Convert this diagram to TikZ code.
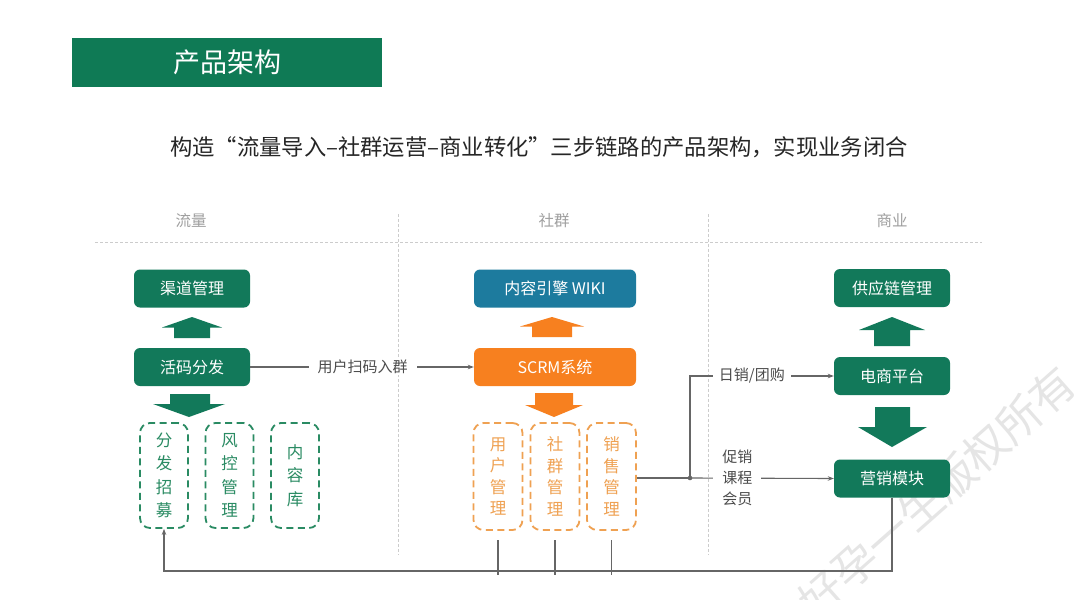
\documentclass[tikz,border=0pt]{standalone}
\usepackage{fontspec}
\setmainfont{Noto Sans CJK SC}
\usetikzlibrary{arrows.meta}
\definecolor{dgreen}{HTML}{12795A}
\definecolor{tgreen}{HTML}{0F7A55}
\definecolor{teal}{HTML}{1D7B9E}
\definecolor{orng}{HTML}{F7801F}
\definecolor{lorng}{HTML}{EFA152}
\definecolor{dashg}{HTML}{2A8B63}
\definecolor{lgray}{HTML}{666666}
\definecolor{sepgray}{HTML}{CCCCCC}
\tikzset{
  gbox/.style={fill=dgreen, rounded corners=6pt, minimum width=116pt, minimum height=38pt, inner sep=0pt, text=white, font=\fontsize{16}{16}\selectfont},
  tbox/.style={gbox, fill=teal, minimum width=162pt},
  obox/.style={gbox, fill=orng, minimum width=162pt},
  gdash/.style={draw=dashg, line width=1.8pt, dash pattern=on 7pt off 4.5pt, rounded corners=10pt, minimum width=48pt, minimum height=105pt, inner sep=0pt, text=dashg, align=center, font=\fontsize{16.5}{23.5}\selectfont},
  odash/.style={gdash, draw=lorng, text=lorng, minimum width=49pt, minimum height=107pt, font=\fontsize{16.5}{21.5}\selectfont},
  conn/.style={draw=lgray, line width=1.1pt},
  tip/.style={-{Stealth[length=6pt,width=4.5pt]}},
  lab/.style={fill=white, text=black!70, font=\fontsize{15}{17}\selectfont, inner xsep=6pt, inner ysep=1pt},
  sep/.style={draw=sepgray, line width=0.8pt, dash pattern=on 3pt off 2pt},
  hdr/.style={text=gray!75, font=\fontsize{15.5}{15.5}\selectfont},
}
\begin{document}
\begin{tikzpicture}[x=1pt,y=-1pt]
\useasboundingbox (0,0) rectangle (1080,600);
\fill[white] (0,0) rectangle (1080,600);
\clip (0,0) rectangle (1080,600);

% watermark
\node[text=gray!20, rotate=41.5, font=\fontsize{44}{44}\selectfont] (wm) at (937,492) {好孕一生版权所有};

% title
\node[fill=tgreen, minimum width=310pt, minimum height=49pt, inner sep=0pt, text=white, font=\fontsize{27}{27}\selectfont] (title) at (227,62.5) {产品架构};
\node[font=\fontsize{22.3}{22.3}\selectfont, text=black!85] (sub) at (539,147) {构造“流量导入–社群运营–商业转化”三步链路的产品架构，实现业务闭合};

% separators
\coordinate (hl) at (95,242);
\coordinate (hr) at (982,242);
\draw[sep] (hl) -- (hr);
\coordinate (v1t) at (398,214);
\coordinate (v1b) at (398,555);
\coordinate (v2t) at (708,214);
\coordinate (v2b) at (708,555);
\draw[sep] (v1t) -- (v1b);
\draw[sep] (v2t) -- (v2b);

% headers
\node[hdr] (h1) at (191,221) {流量};
\node[hdr] (h2) at (554,221) {社群};
\node[hdr] (h3) at (892,221) {商业};

% left column
\node[gbox] (qudao) at (192,288.5) {渠道管理};
\node[gbox] (huoma) at (192,367) {活码分发};
\fill[dgreen] (192,317) -- (222,327.5) -- (210,327.5) -- (210,338) -- (174,338) -- (174,327.5) -- (162,327.5) -- cycle;
\fill[dgreen] (189,417) -- (225,404) -- (210,404) -- (210,394) -- (170,394) -- (170,404) -- (153,404) -- cycle;
\node[gdash] (fenfa) at (164,475.5) {分\\发\\招\\募};
\node[gdash] (fengkong) at (229.5,475.5) {风\\控\\管\\理};
\node[gdash] (neirong) at (295,475.5) {内\\容\\库};

% middle column
\node[tbox] (wiki) at (555,288.5) {内容引擎 WIKI};
\node[obox] (scrm) at (555,367) {SCRM系统};
\fill[orng] (552,317) -- (584,326.5) -- (572,326.5) -- (572,337) -- (532,337) -- (532,326.5) -- (520,326.5) -- cycle;
\fill[orng] (554,417) -- (583,405) -- (573,405) -- (573,393) -- (535,393) -- (535,405) -- (525,405) -- cycle;
\node[odash] (yonghu) at (498,476.5) {用\\户\\管\\理};
\node[odash] (shequn) at (555,476.5) {社\\群\\管\\理};
\node[odash] (xiaoshou) at (611.5,476.5) {销\\售\\管\\理};

% right column
\node[gbox] (gongying) at (892,288) {供应链管理};
\node[gbox] (dianshang) at (892,376) {电商平台};
\node[gbox] (yingxiao) at (892,478.5) {营销模块};
\fill[dgreen] (892,317) -- (925,330) -- (910,330) -- (910,346) -- (874,346) -- (874,330) -- (859,330) -- cycle;
\fill[dgreen] (892,447) -- (927,427) -- (910,427) -- (910,407) -- (875,407) -- (875,427) -- (858,427) -- cycle;

% connectors
\draw[conn,tip] (huoma.east) -- node[lab, pos=0.503, inner xsep=9pt] {用户扫码入群} (scrm.west);

\coordinate (j) at (690,478);
\draw[conn] (xiaoshou.east |- j) -- (j);
\fill[lgray] (j) circle (2.3pt);
\draw[conn,tip] (j) |- node[lab, pos=0.715] {日销/团购} (dianshang.west);
\draw[conn,tip] (j) -- node[lab, pos=0.33, align=center, inner xsep=9pt, font=\fontsize{15}{21}\selectfont] {促销\\课程\\会员} (yingxiao.west);

% feedback loop
\coordinate (ybot) at (0,571);
\coordinate (ytop) at (0,540);
\coordinate (yend) at (0,575);
\draw[conn,tip] (yingxiao.south) |- (fenfa.south |- ybot) -- (fenfa.south);
\draw[conn] (yonghu.south |- ytop) -- (yonghu.south |- yend);
\draw[conn] (shequn.south |- ytop) -- (shequn.south |- yend);
\draw[conn] (xiaoshou.south |- ytop) -- (xiaoshou.south |- yend);
\end{tikzpicture}
\end{document}
